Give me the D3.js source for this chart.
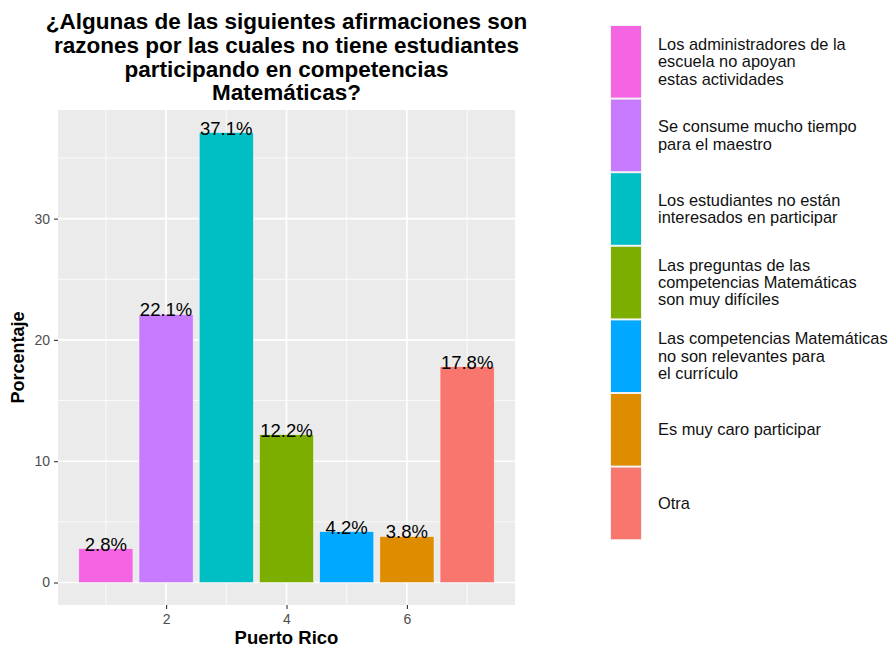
<!doctype html>
<html>
<head>
  <meta charset="utf8"/>
  <style>
    body { margin: 0; background: #fff; }
    text { font-family: "Liberation Sans", Arial, sans-serif; }
  </style>
</head>
<body>
  <svg width="890" height="649"></svg>
  <script src="https://d3js.org/d3.v7.min.js"></script>
  <script>
    // data
    var positions = [1, 2, 3, 4, 5, 6, 7];
    var values = [2.8, 22.1, 37.1, 12.2, 4.2, 3.8, 17.8];
    var categories = [
      ['Los administradores de la', 'escuela no apoyan', 'estas actividades'],
      ['Se consume mucho tiempo', 'para el maestro'],
      ['Los estudiantes no están', 'interesados en participar'],
      ['Las preguntas de las', 'competencias Matemáticas', 'son muy difíciles'],
      ['Las competencias Matemáticas', 'no son relevantes para', 'el currículo'],
      ['Es muy caro participar'],
      ['Otra']
    ];
    var colors = ['#F564E3', '#C77CFF', '#00BFC4', '#7CAE00', '#00A9FF', '#DE8C00', '#F8766D'];
    var xTicks = [2, 4, 6];
    var yTicks = [0, 10, 20, 30];
    var titleLines = [
      '¿Algunas de las siguientes afirmaciones son',
      'razones por las cuales no tiene estudiantes',
      'participando en competencias',
      'Matemáticas?'
    ];

    var svg = d3.select('svg');
    var panel = {left: 58, right: 515, top: 110, bottom: 605};

    // ggplot-like expansion: 5% on each side
    var xlo = 0.55, xhi = 7.45, xpad = (xhi - xlo) * 0.05;
    var x = d3.scaleLinear()
              .domain([xlo - xpad, xhi + xpad])
              .range([panel.left, panel.right]);
    var ymax = d3.max(values), ypad = ymax * 0.05;
    var y = d3.scaleLinear()
              .domain([-ypad, ymax + ypad])
              .range([panel.bottom, panel.top]);

    svg.append('rect')
       .attr('x', panel.left).attr('y', panel.top)
       .attr('width', panel.right - panel.left)
       .attr('height', panel.bottom - panel.top)
       .attr('fill', '#EBEBEB');

    var grid = svg.append('g');
    // minor grid
    [1, 3, 5, 7].forEach(function(v) {
      grid.append('line')
        .attr('x1', x(v)).attr('x2', x(v))
        .attr('y1', panel.top).attr('y2', panel.bottom)
        .attr('stroke', '#fff').attr('stroke-width', 0.8);
    });
    [5, 15, 25, 35].forEach(function(v) {
      grid.append('line')
        .attr('x1', panel.left).attr('x2', panel.right)
        .attr('y1', y(v)).attr('y2', y(v))
        .attr('stroke', '#fff').attr('stroke-width', 0.8);
    });
    // major grid
    xTicks.forEach(function(v) {
      grid.append('line')
        .attr('x1', x(v)).attr('x2', x(v))
        .attr('y1', panel.top).attr('y2', panel.bottom)
        .attr('stroke', '#fff').attr('stroke-width', 1.6);
    });
    yTicks.forEach(function(v) {
      grid.append('line')
        .attr('x1', panel.left).attr('x2', panel.right)
        .attr('y1', y(v)).attr('y2', y(v))
        .attr('stroke', '#fff').attr('stroke-width', 1.6);
    });

    // bars
    svg.selectAll('.bar')
      .data(values)
      .enter().append('rect')
        .attr('class', 'bar')
        .attr('x', function(d, i) { return x(positions[i] - 0.45); })
        .attr('width', function(d, i) { return x(positions[i] + 0.45) - x(positions[i] - 0.45); })
        .attr('y', function(d) { return y(d); })
        .attr('height', function(d) { return y(0) - y(d); })
        .attr('fill', function(d, i) { return colors[i]; })
        .attr('stroke', '#f4f4f4').attr('stroke-width', 0.6);

    svg.selectAll('.lbl')
      .data(values)
      .enter().append('text')
        .attr('class', 'lbl')
        .attr('x', function(d, i) { return x(positions[i]); })
        .attr('y', function(d) { return y(d) + 2; })
        .attr('text-anchor', 'middle')
        .style('font-size', '18.5px')
        .attr('fill', '#000')
        .text(function(d) { return d.toFixed(1) + '%'; });

    // axes
    var xAxis = svg.append('g')
       .attr('transform', 'translate(0,' + panel.bottom + ')')
       .call(d3.axisBottom(x).tickValues(xTicks).tickSize(4).tickPadding(5).tickFormat(d3.format('d')));
    var yAxis = svg.append('g')
       .attr('transform', 'translate(' + panel.left + ',0)')
       .call(d3.axisLeft(y).tickValues(yTicks).tickSize(4).tickPadding(4).tickFormat(d3.format('d')));
    [xAxis, yAxis].forEach(function(a) {
      a.select('.domain').remove();
      a.selectAll('line').attr('stroke', '#333').attr('stroke-width', 1.1);
      a.selectAll('text').attr('fill', '#4D4D4D')
        .style('font-size', '14px')
        .style('font-family', '"Liberation Sans", Arial, sans-serif');
    });

    // titles
    var cx = (panel.left + panel.right) / 2;
    svg.append('text')
       .attr('text-anchor', 'middle')
       .style('font-size', '22.5px').style('font-weight', 'bold')
       .selectAll('tspan')
       .data(titleLines)
       .enter().append('tspan')
         .attr('x', cx)
         .attr('y', function(d, i) { return 29 + i * 23.8; })
         .text(function(d) { return d; });

    svg.append('text')
       .attr('x', cx).attr('y', 644)
       .attr('text-anchor', 'middle')
       .style('font-size', '18.5px').style('font-weight', 'bold')
       .text('Puerto Rico');

    svg.append('text')
       .attr('transform', 'translate(24,' + ((panel.top + panel.bottom) / 2) + ') rotate(-90)')
       .attr('text-anchor', 'middle')
       .style('font-size', '18px').style('font-weight', 'bold')
       .text('Porcentaje');

    // legend
    var keyTop = 25, keyH = 73.6, keyX = 610, keyW = 32;
    var leg = svg.selectAll('.key')
      .data(categories)
      .enter().append('g')
        .attr('class', 'key')
        .attr('transform', function(d, i) { return 'translate(' + keyX + ',' + (keyTop + i * keyH) + ')'; });
    leg.append('rect')
       .attr('width', keyW).attr('height', keyH)
       .attr('fill', '#F2F2F2');
    leg.append('rect')
       .attr('x', 1).attr('y', 1)
       .attr('width', keyW - 2).attr('height', keyH - 2)
       .attr('fill', function(d, i) { return colors[i]; });
    leg.append('text')
       .style('font-size', '16.4px')
       .attr('fill', '#111')
       .each(function(d) {
         var t = d3.select(this);
         var lh = 17.3, n = d.length;
         d.forEach(function(line, j) {
           t.append('tspan')
            .attr('x', 48)
            .attr('y', keyH / 2 + (j - (n - 1) / 2) * lh + 5.5)
            .text(line);
         });
       });
  </script>
</body>
</html>
